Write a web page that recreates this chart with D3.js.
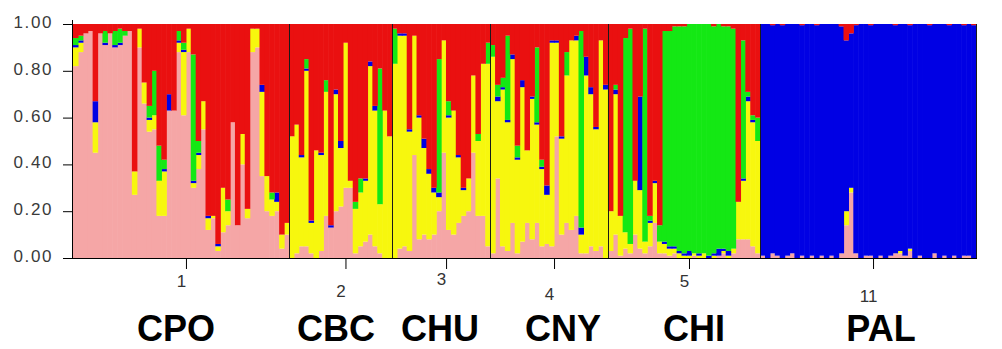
<!DOCTYPE html>
<html><head><meta charset="utf-8">
<script src="https://cdn.jsdelivr.net/npm/d3@7"></script>
<style>html,body{margin:0;padding:0;background:#fff;} svg{display:block;}</style>
</head><body><svg id="chart" width="1002" height="349"></svg>
<script>
// cluster order (bottom to top) and colours
const clusterKeys = ["pink", "yellow", "blue", "green", "red"];
const clusterColors = ["#f5a6a6", "#f7f70e", "#0000e4", "#14e814", "#ea1010"];
const popNames = ["CPO", "CBC", "CHU", "CNY", "CHI", "PAL"];
const popCodes = ["1", "2", "3", "4", "5", "11"];
const yTickValues = [0, 0.2, 0.4, 0.6, 0.8, 1.0];

// membership rows per individual: [pink, yellow, blue, green, red]
const cpo = [
  [.82,.08,.01,.03,.06],[.88,.04,.01,.02,.05],[.96,0,0,0,.04],[.97,0,0,0,.03],[.45,.13,.09,0,.33],
  [.96,0,0,0,.04],[.91,0,.01,.05,.03],[.96,0,0,0,.04],[.90,0,.01,.06,.03],[.91,0,.01,.06,.02],
  [.95,0,0,.02,.03],[.97,0,0,0,.03],[.27,.10,0,0,.63],[.90,.08,0,0,.02],[.66,.09,0,0,.25],
  [.54,.05,.01,.05,.35],[.55,.06,0,.19,.20],[.18,.15,0,.15,.52],[.18,.19,.01,.04,.58],[.63,0,.07,0,.30],
  [.63,0,0,0,.37],[.88,.04,.01,.04,.03],[.61,.27,.01,.03,.08],[.88,.10,0,0,.02],[.30,.02,.01,.54,.13],
  [.38,.06,.01,.05,.50],[.55,.12,0,0,.33],[.12,.05,.01,0,.82],[.17,.01,0,0,.82],[.03,.02,.01,0,.94],
  [.11,.19,0,0,.70],[.14,.06,0,.05,.75],[.58,0,0,0,.42],[.14,0,0,0,.86],[.40,.13,0,0,.47],
  [.17,.04,0,0,.79],[.88,.10,0,0,.02],[.90,.08,0,0,.02],[.35,.36,.03,0,.26],[.20,.15,0,0,.65],
  [.18,.07,0,.03,.72],[.20,.04,.04,0,.72],[.04,.06,0,0,.90],[.10,.05,0,0,.85]
];
const cbc = [
  [0,.52,0,0,.48],[.02,.55,0,0,.43],[.05,.38,.01,0,.56],[.05,.75,.01,.04,.15],[.02,.13,.01,0,.84],
  [0,.46,0,0,.54],[.03,.41,.01,0,.55],[.18,.53,0,.05,.24],[.13,0,.01,0,.86],[.20,.50,.02,0,.28],
  [.22,.25,.03,0,.50],[.30,.62,0,0,.08],[.30,.03,0,0,.67],[.02,.19,0,.03,.76],[.05,.23,0,.06,.66],
  [.07,.26,.01,0,.66],[.10,.72,.02,0,.16],[.05,.58,.02,0,.35],[.02,.21,0,.58,.19],[0,.63,0,0,.37],
  [0,.52,0,0,.48]
];
const chu = [
  [0,.83,0,.15,.02],[.04,.91,.01,0,.04],[.05,.90,.01,0,.04],[.03,.51,.01,0,.45],[.44,.51,0,0,.05],
  [.08,.52,.01,0,.39],[.10,.37,.04,0,.49],[.08,.28,.02,0,.62],[.10,.18,.02,0,.70],[.20,.06,.02,.57,.15],
  [.45,.48,0,0,.07],[.12,.48,.01,.06,.33],[.10,.53,0,0,.37],[.15,.28,.01,0,.56],[.18,.11,.01,0,.70],
  [.20,.14,0,0,.66],[.45,.33,0,0,.22],[.18,.32,0,.03,.47],[.18,.65,0,0,.17],[.05,.78,0,.09,.08]
];
const cny = [
  [.02,.84,0,.05,.09],[.34,.33,.02,.05,.26],[.05,.67,.01,.04,.23],[.03,.55,.01,.36,.05],[.15,.70,.02,0,.13],
  [.02,.40,.01,.05,.52],[.07,.66,.03,0,.24],[.15,.31,0,0,.54],[.08,.60,.01,0,.31],[.15,.42,.01,.32,.10],
  [.05,.33,.01,.03,.58],[.06,.21,.04,0,.69],[.05,.87,.01,0,.07],[.52,.40,.01,0,.07],[.10,.41,.01,0,.48],
  [.15,.63,0,.10,.12],[.12,.81,0,0,.07],[.18,.75,.02,0,.05],[.02,.08,.03,.84,.03],[.02,.76,.08,0,.14],
  [.05,.65,.03,0,.27],[.03,.52,.01,0,.44],[.05,.88,0,0,.07],[0,.72,.02,0,.26]
];
const chi = [
  [.03,.17,0,0,.80],[.10,.60,.02,.02,.26],[.01,.17,0,0,.82],[.04,.07,0,.83,.06],[.02,.04,0,.92,.02],
  [.10,.23,0,0,.67],[.04,.25,.40,0,.31],[.02,.05,0,.91,.02],[.05,.10,.01,.02,.82],[.15,.17,.01,0,.67],
  [.02,.05,0,.07,.86],[.02,.04,.01,.90,.03],[.01,.03,.01,.92,.03],[.02,.02,.01,.94,.01],[0,.02,.01,.96,.01],
  [0,.01,.01,.97,.01],[0,.01,.02,.97,0],[.01,.01,0,.98,0],[0,.01,.01,.98,0],[0,.02,0,.98,0],
  [0,0,.01,.99,0],[0,.01,.01,.97,.01],[.01,0,.03,.96,0],[.02,.01,.01,.95,.01],[0,.01,.02,.96,.01],
  [.02,.02,0,.94,.02],[.08,.16,0,0,.76],[.08,.25,.01,.59,.07],[.08,.59,.02,.02,.29],[.05,.53,.01,.02,.39],
  [.02,.48,0,.10,.40]
];
const pal = [
  [.01,0,.99,0,0],[0,0,1,0,0],[.02,0,.975,0,.005],[.01,0,.99,0,0],[0,0,.995,0,.005],
  [.01,0,.99,0,0],[.02,0,.98,0,0],[0,0,1,0,0],[.01,0,.985,0,.005],[0,0,1,0,0],
  [.01,0,.99,0,0],[0,0,.995,0,.005],[.01,0,.99,0,0],[0,0,1,0,0],[.01,0,.99,0,0],
  [0,0,1,0,0],[.02,0,.97,0,.01],[.14,.06,.73,0,.07],[.28,.02,.66,0,.04],[.02,0,.975,0,.005],
  [0,0,1,0,0],[.01,0,.99,0,0],[.01,0,.985,0,.005],[0,0,1,0,0],[.01,0,.99,0,0],
  [0,0,1,0,0],[.01,0,.99,0,0],[.02,0,.975,0,.005],[.02,.01,.97,0,0],[.01,0,.99,0,0],
  [.03,.01,.955,0,.005],[0,0,1,0,0],[.01,0,.99,0,0],[0,0,1,0,0],[0,0,.995,0,.005],
  [.02,0,.98,0,0],[0,0,1,0,0],[.01,0,.99,0,0],[0,0,.995,0,.005],[.01,0,.99,0,0],
  [0,0,1,0,0],[.01,0,.985,0,.005],[.01,0,.99,0,0],[0,0,.995,0,.005]
];
const populations = [cpo, cbc, chu, cny, chi, pal];

// ---- layout ----
const plotLeft = 73, plotRight = 976, plotTop = 24, plotBottom = 258;
const codeLabelY = [281, 291, 279, 294, 281, 296];
const tickShift = 5;
const nameLabelX = [176, 336, 440, 563, 694, 881];

const svg = d3.select("#chart");

const individuals = [];
populations.forEach((rows, pi) => {
  rows.forEach((r, j) => {
    const s = d3.sum(r);
    const o = { id: popNames[pi] + "_" + j, pop: pi };
    clusterKeys.forEach((k, ki) => o[k] = r[ki] / s);
    individuals.push(o);
  });
});

const x = d3.scaleBand().domain(individuals.map(d => d.id)).range([plotLeft, plotRight]).padding(0);
const y = d3.scaleLinear().domain([0, 1]).range([plotBottom, plotTop]);
const color = d3.scaleOrdinal().domain(clusterKeys).range(clusterColors);

const series = d3.stack().keys(clusterKeys)(individuals);

svg.append("g").selectAll("g").data(series).join("g")
  .attr("fill", d => color(d.key))
  .selectAll("rect").data(d => d).join("rect")
  .attr("x", d => x(d.data.id))
  .attr("width", x.bandwidth() + 0.6)
  .attr("y", d => y(d[1]))
  .attr("height", d => Math.max(0, y(d[0]) - y(d[1])));

// population separators
const popStart = populations.map((rows, pi) => x(popNames[pi] + "_0"));
const popEnd = populations.map((rows, pi) => x(popNames[pi] + "_" + (rows.length - 1)) + x.bandwidth());
svg.append("g").selectAll("line").data(popStart.slice(1).concat([plotRight])).join("line")
  .attr("x1", d => Math.round(d) + 0.5).attr("x2", d => Math.round(d) + 0.5)
  .attr("y1", plotTop).attr("y2", plotBottom)
  .attr("stroke", "#1a1a1a").attr("stroke-width", 1);

// y axis
const yAxis = svg.append("g").attr("transform", `translate(${plotLeft},0)`)
  .call(d3.axisLeft(y).tickValues(yTickValues).tickFormat(d3.format(".2f")).tickSize(10).tickPadding(10));
yAxis.select(".domain").attr("stroke", "#000").attr("d", `M-0.5,${plotTop - 4}V${plotBottom}`);
yAxis.selectAll(".tick line").attr("stroke", "#000");
yAxis.selectAll(".tick text")
  .attr("font-family", "'Liberation Sans', Arial, sans-serif")
  .attr("font-size", 17).attr("fill", "#3a3a3a").attr("letter-spacing", "1.6px").attr("dy", "0.2em");

// bottom axis with population codes
const centerScale = d3.scaleOrdinal().domain(popCodes)
  .range(popCodes.map((c, i) => (popStart[i] + popEnd[i]) / 2 + tickShift));
const xAxis = svg.append("g").attr("transform", `translate(0,${plotBottom})`)
  .call(d3.axisBottom(centerScale).tickSize(11).tickPadding(4));
xAxis.select(".domain").remove();
xAxis.selectAll(".tick line").attr("stroke", "#000");
xAxis.selectAll(".tick text")
  .attr("font-family", "'Liberation Sans', Arial, sans-serif")
  .attr("font-size", 17).attr("fill", "#333")
  .attr("x", -tickShift)
  .attr("y", (d, i) => codeLabelY[i] - plotBottom).attr("dy", "0.35em");
svg.append("line").attr("x1", plotLeft - 1).attr("x2", plotRight + 1)
  .attr("y1", plotBottom + 0.5).attr("y2", plotBottom + 0.5).attr("stroke", "#000");

// population names
svg.append("g").selectAll("text").data(popNames).join("text")
  .attr("x", (d, i) => nameLabelX[i]).attr("y", 341)
  .attr("text-anchor", "middle")
  .attr("font-family", "'Liberation Sans', Arial, sans-serif")
  .attr("font-weight", "bold").attr("font-size", 36).attr("fill", "#000")
  .text(d => d);
</script>
</body></html>
